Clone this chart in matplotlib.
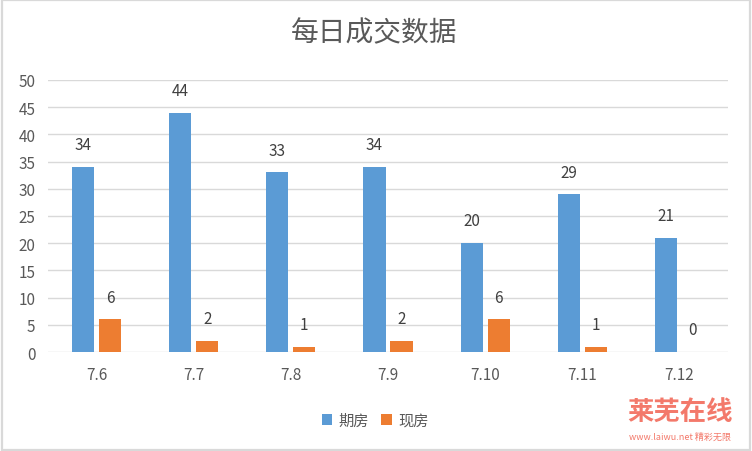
import numpy as np
import matplotlib.pyplot as plt
from matplotlib.patches import Rectangle

plt.rcParams['font.family'] = ['Noto Sans CJK SC', 'DejaVu Sans']

dates = ['7.6', '7.7', '7.8', '7.9', '7.10', '7.11', '7.12']
qifang = [34, 44, 33, 34, 20, 29, 21]
xianfang = [6, 2, 1, 2, 6, 1, 0]
yticks = [0, 5, 10, 15, 20, 25, 30, 35, 40, 45, 50]

blue = '#5B9BD5'
orange = '#ED7D31'
grid_c = '#D9D9D9'
text_c = '#595959'

fig = plt.figure(figsize=(7.52, 4.52), dpi=100)
ax = fig.add_axes([48/752, 1-353/452, 680/752, 272/452])

x = np.arange(len(dates))
w = 0.227
off = 0.139
b1 = ax.bar(x - off, qifang, w, color=blue, label='期房', zorder=3)
b2 = ax.bar(x + off, xianfang, w, color=orange, label='现房', zorder=3)

for bars, vals in [(b1, qifang), (b2, xianfang)]:
    for r, v in zip(bars, vals):
        ax.annotate(str(v), (r.get_x() + r.get_width()/2, v), xytext=(0, 16),
                    textcoords='offset points', ha='center', va='center',
                    fontsize=11, color='#404040')

ax.set_xlim(-0.5, len(dates) - 0.5)
ax.set_ylim(0, 50)
ax.set_yticks(yticks)
ax.set_xticks(x)
ax.set_xticklabels(dates)
ax.tick_params(axis='both', length=0, labelsize=11, labelcolor=text_c)
ax.tick_params(axis='y', pad=9)
ax.tick_params(axis='x', pad=10)
ax.yaxis.grid(True, color=grid_c, linewidth=1.0, zorder=0)
for s in ax.spines.values():
    s.set_visible(False)

fig.text(0.497, 1-33/452, '每日成交数据', ha='center', va='center',
         fontsize=20, color=text_c)

fig.legend(loc='center', bbox_to_anchor=(375/752, 1-421/452), ncol=2,
           frameon=False, fontsize=11, handlelength=0.7, handleheight=0.7,
           handletextpad=0.4, columnspacing=0.8, labelcolor=text_c)

# watermark
fig.text(680/752, 1-413/452, '莱芜在线', ha='center', va='center', fontsize=19,
         color='#F26B5B', fontweight='bold', style='italic', alpha=0.9)
fig.text(680/752, 1-437/452, 'www.laiwu.net 精彩无限', ha='center', va='center',
         fontsize=6.5, color='#F26B5B', style='italic', alpha=0.9)

fig.patches.append(Rectangle((0.002, 0.002), 0.996, 0.995, transform=fig.transFigure,
                             fill=False, edgecolor=grid_c, linewidth=1.6))

fig.savefig('out.png', dpi=100)
